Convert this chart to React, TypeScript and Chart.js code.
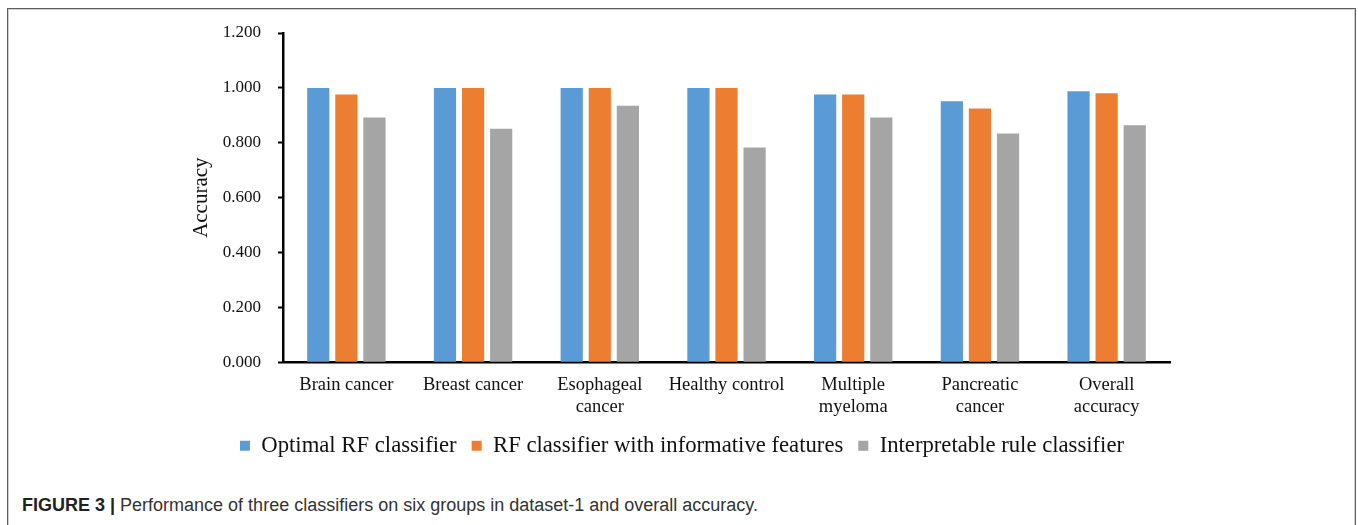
import React, { useEffect, useRef } from "react";
import { Chart, registerables } from "chart.js";

Chart.register(...registerables);

// Groups on the x axis (multi-line labels as arrays)
const categories: (string | string[])[] = [
  "Brain cancer",
  "Breast cancer",
  ["Esophageal", "cancer"],
  "Healthy control",
  ["Multiple", "myeloma"],
  ["Pancreatic", "cancer"],
  ["Overall", "accuracy"],
];

const seriesNames = [
  "Optimal RF classifier",
  "RF classifier with informative features",
  "Interpretable rule classifier",
];

const optimalRF = [1.0, 1.0, 1.0, 1.0, 0.976, 0.951, 0.988];
const informativeRF = [0.976, 1.0, 1.0, 1.0, 0.976, 0.925, 0.98];
const ruleClassifier = [0.892, 0.851, 0.935, 0.783, 0.892, 0.834, 0.864];

const seriesColors = ["#5B9BD5", "#ED7D31", "#A5A5A5"];

const yTicks = [0, 0.2, 0.4, 0.6, 0.8, 1.0, 1.2];

const SERIF = "'Liberation Serif', 'Times New Roman', serif";

export default function App() {
  const canvasRef = useRef<HTMLCanvasElement | null>(null);

  useEffect(() => {
    if (!canvasRef.current) return;
    const values = [optimalRF, informativeRF, ruleClassifier];
    const chart = new Chart(canvasRef.current, {
      type: "bar",
      data: {
        labels: categories,
        datasets: seriesNames.map((name, i) => ({
          label: name,
          data: values[i],
          backgroundColor: seriesColors[i],
          borderWidth: 0,
          barPercentage: 0.79,
          categoryPercentage: 0.665,
        })),
      },
      options: {
        animation: false,
        responsive: false,
        maintainAspectRatio: false,
        layout: { padding: { top: 23, right: 10, bottom: 3, left: 9 } },
        plugins: {
          tooltip: { enabled: false },
          legend: {
            position: "bottom",
            labels: {
              boxWidth: 10,
              boxHeight: 10,
              padding: 15,
              color: "#111",
              font: { family: SERIF, size: 22.7 },
            },
          },
        },
        scales: {
          x: {
            grid: { display: false },
            border: { display: true, color: "#000", width: 2.5 },
            ticks: {
              color: "#111",
              padding: 4,
              maxRotation: 0,
              autoSkip: false,
              font: { family: SERIF, size: 18.5, lineHeight: 1.2 },
            },
            afterFit: (s: any) => {
              s.height = 57;
            },
          },
          y: {
            min: 0,
            max: 1.2,
            afterBuildTicks: (s: any) => {
              s.ticks = yTicks.map((v) => ({ value: v }));
            },
            grid: {
              display: true,
              drawOnChartArea: false,
              drawTicks: true,
              tickLength: 5,
              tickColor: "#000",
              tickWidth: 2,
            },
            border: { display: true, color: "#000", width: 2.5 },
            ticks: {
              color: "#111",
              padding: 17,
              font: { family: SERIF, size: 17 },
              callback: (v: any) => Number(v).toFixed(3),
            },
            title: {
              display: true,
              text: "Accuracy",
              color: "#111",
              font: { family: SERIF, size: 21 },
              padding: { top: -5, bottom: 4 },
            },
            afterFit: (s: any) => {
              s.width = 89;
              // keep the label padding from pushing the plot area down
              s.paddingTop = 10;
              s.paddingBottom = 10;
            },
          },
        },
      },
    });
    return () => chart.destroy();
  }, []);

  return (
    <div>
      <div
        style={{
          position: "absolute",
          left: 7,
          top: 8,
          width: 1349,
          height: 517,
          boxSizing: "border-box",
          border: "1px solid #5f5f5f",
          borderBottom: "none",
          boxShadow: "inset 1px 1px 0 #cfcfcf, inset -1px 0 0 #cfcfcf",
        }}
      />
      <div style={{ position: "absolute", left: 185, top: 10, width: 995, height: 460 }}>
        <canvas ref={canvasRef} width={995} height={460} />
      </div>
      <div
        style={{
          position: "absolute",
          left: 22,
          top: 495,
          whiteSpace: "nowrap",
          fontFamily: "'Liberation Sans', Arial, sans-serif",
          fontSize: 18,
          color: "#333",
        }}
      >
        <span style={{ fontWeight: "bold", color: "#222" }}>FIGURE 3 |</span> Performance of three
        classifiers on six groups in dataset-1 and overall accuracy.
      </div>
    </div>
  );
}
